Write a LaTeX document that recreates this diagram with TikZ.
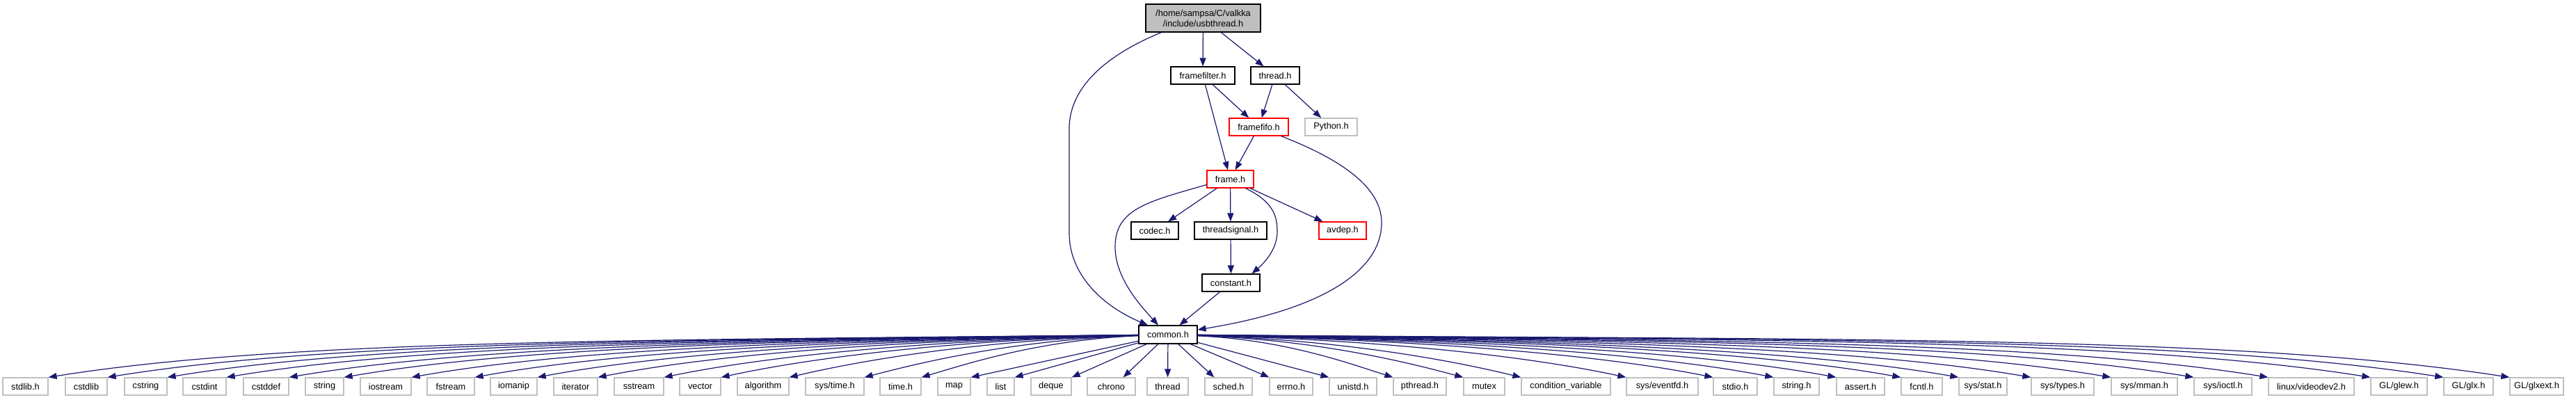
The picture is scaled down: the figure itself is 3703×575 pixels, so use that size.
\documentclass[tikz,border=0pt]{standalone}
\usepackage{fontspec}
\setmainfont{Liberation Sans}
\usetikzlibrary{arrows.meta}
\definecolor{edgeblue}{HTML}{191970}
\definecolor{boxgray}{HTML}{BFBFBF}
\tikzset{
  hbox/.style={rectangle, draw=black, line width=1.2pt, inner sep=0pt, minimum height=25pt, font=\fontsize{12.8}{15}\selectfont, text=black},
  sysbox/.style={hbox, draw=boxgray},
  redbox/.style={hbox, draw=red},
  rootbox/.style={hbox, fill=boxgray, minimum height=40pt, align=center},
  dep/.style={draw=edgeblue, line width=1.2pt, -{Triangle[length=12pt,width=9pt]}},
}
\begin{document}
\begin{tikzpicture}[x=1pt,y=1pt]
\fill[white] (0,0) rectangle (3703,-575);
\useasboundingbox (0,0) rectangle (3703,-575);

% upper nodes
\node[rootbox, minimum width=165pt] (usb) at (1729.5,-26) {/home/sampsa/C/valkka\\/include/usbthread.h};
\node[hbox, minimum width=92pt] (framefilter) at (1729,-108.5) {framefilter.h};
\node[hbox, minimum width=70pt] (threadh) at (1833,-108.5) {thread.h};
\node[redbox, minimum width=85pt] (framefifo) at (1809.5,-182.5) {framefifo.h};
\node[sysbox, minimum width=75pt] (python) at (1913.5,-182.5) {Python.h};
\node[redbox, minimum width=67pt] (frame) at (1768.5,-257.5) {frame.h};
\node[hbox, minimum width=68pt] (codec) at (1660,-331.5) {codec.h};
\node[hbox, minimum width=104pt] (threadsignal) at (1769,-331.5) {threadsignal.h};
\node[redbox, minimum width=68pt] (avdep) at (1930,-331.5) {avdep.h};
\node[hbox, minimum width=83pt] (constant) at (1769.5,-406.5) {constant.h};
\node[hbox, minimum width=84pt, minimum height=26pt] (common) at (1679,-481) {common.h};

% bottom row
\node[sysbox, minimum width=65pt] (stdlibh) at (36.5,-555.5) {stdlib.h};
\node[sysbox, minimum width=60pt] (cstdlib) at (124,-555.5) {cstdlib};
\node[sysbox, minimum width=61pt] (cstring) at (209.5,-555.5) {cstring};
\node[sysbox, minimum width=62pt] (cstdint) at (294,-555.5) {cstdint};
\node[sysbox, minimum width=65pt] (cstddef) at (382.5,-555.5) {cstddef};
\node[sysbox, minimum width=55pt] (stringcpp) at (466.5,-555.5) {string};
\node[sysbox, minimum width=73pt] (iostream) at (554.5,-555.5) {iostream};
\node[sysbox, minimum width=68pt] (fstream) at (648,-555.5) {fstream};
\node[sysbox, minimum width=67pt] (iomanip) at (738.5,-555.5) {iomanip};
\node[sysbox, minimum width=63pt] (iterator) at (827.5,-555.5) {iterator};
\node[sysbox, minimum width=71pt] (sstream) at (918.5,-555.5) {sstream};
\node[sysbox, minimum width=59pt] (vector) at (1006.5,-555.5) {vector};
\node[sysbox, minimum width=74pt] (algorithm) at (1097,-555.5) {algorithm};
\node[sysbox, minimum width=84pt] (systime) at (1200,-555.5) {sys/time.h};
\node[sysbox, minimum width=59pt] (timeh) at (1294.5,-555.5) {time.h};
\node[sysbox, minimum width=47pt] (map) at (1371.5,-555.5) {map};
\node[sysbox, minimum width=39pt] (list) at (1438.5,-555.5) {list};
\node[sysbox, minimum width=58pt] (deque) at (1511,-555.5) {deque};
\node[sysbox, minimum width=69pt] (chrono) at (1597.5,-555.5) {chrono};
\node[sysbox, minimum width=59pt] (threadstd) at (1678.5,-555.5) {thread};
\node[sysbox, minimum width=68pt] (sched) at (1766,-555.5) {sched.h};
\node[sysbox, minimum width=62pt] (errno) at (1856,-555.5) {errno.h};
\node[sysbox, minimum width=68pt] (unistd) at (1945,-555.5) {unistd.h};
\node[sysbox, minimum width=76pt] (pthread) at (2041,-555.5) {pthread.h};
\node[sysbox, minimum width=59pt] (mutex) at (2133.5,-555.5) {mutex};
\node[sysbox, minimum width=128pt] (condvar) at (2251,-555.5) {condition\_variable};
\node[sysbox, minimum width=103pt] (eventfd) at (2389.5,-555.5) {sys/eventfd.h};
\node[sysbox, minimum width=63pt] (stdio) at (2494.5,-555.5) {stdio.h};
\node[sysbox, minimum width=65pt] (stringh) at (2582.5,-555.5) {string.h};
\node[sysbox, minimum width=69pt] (assert) at (2674.5,-555.5) {assert.h};
\node[sysbox, minimum width=59pt] (fcntl) at (2762.5,-555.5) {fcntl.h};
\node[sysbox, minimum width=69pt] (sysstat) at (2850.5,-555.5) {sys/stat.h};
\node[sysbox, minimum width=90pt] (systypes) at (2965,-555.5) {sys/types.h};
\node[sysbox, minimum width=95pt] (sysmman) at (3082.5,-555.5) {sys/mman.h};
\node[sysbox, minimum width=83pt] (sysioctl) at (3195.5,-555.5) {sys/ioctl.h};
\node[sysbox, minimum width=123pt] (videodev) at (3322.5,-555.5) {linux/videodev2.h};
\node[sysbox, minimum width=81pt] (glew) at (3448.5,-555.5) {GL/glew.h};
\node[sysbox, minimum width=71pt] (glx) at (3548.5,-555.5) {GL/glx.h};
\node[sysbox, minimum width=77pt] (glxext) at (3646.5,-555.5) {GL/glxext.h};

% upper edges
\draw[dep] (usb) -- (framefilter);
\draw[dep] (usb) -- (threadh);
\draw[dep] ([xshift=-60pt]usb.south) .. controls (1600,-75) and (1537,-120) .. (1537,-185)
  -- (1537,-335) .. controls (1537,-395) and (1585,-440) .. ([xshift=-29pt]common.north);
\draw[dep] (framefilter) -- (framefifo);
\draw[dep] (framefilter) -- (frame);
\draw[dep] (threadh) -- (framefifo);
\draw[dep] (threadh) -- (python);
\draw[dep] (framefifo) -- (frame);
\draw[dep] ([xshift=32pt]framefifo.south) .. controls (1930,-230) and (1986,-270) .. (1986,-320)
  .. controls (1986,-390) and (1900,-445) .. ([yshift=7pt]common.east);
\draw[dep] (frame) -- (codec);
\draw[dep] (frame) -- (threadsignal);
\draw[dep] (frame) -- (avdep);
\draw[dep] ([xshift=22pt]frame.south) .. controls (1830,-290) and (1836,-310) .. (1836,-333)
  .. controls (1836,-360) and (1815,-380) .. ([xshift=30pt]constant.north);
\draw[dep] ([yshift=-8pt]frame.west) .. controls (1650,-290) and (1603,-300) .. (1603,-355)
  .. controls (1603,-400) and (1640,-440) .. ([xshift=-14pt]common.north);
\draw[dep] (threadsignal) -- (constant);
\draw[dep] (constant) -- (common);

% common.h to system headers, left side
\foreach \nm/\ex in {stdlibh/69, cstdlib/154, cstring/240, cstdint/325, cstddef/415, stringcpp/494, iostream/591, fstream/682, iomanip/772, iterator/859, sstream/954, vector/1036, algorithm/1134, systime/1242, timeh/1324}{
  \pgfmathsetmacro\edx{1679-\ex}
  \pgfmathsetmacro\eph{atan(62/\edx)}
  \pgfmathsetmacro\ein{\eph+7}
  \pgfmathsetmacro\eod{0.45*(\edx-42)}
  \pgfmathsetmacro\eid{0.22*(\edx-42)}
  \pgfmathsetmacro\cax{1637-\eod}
  \pgfmathsetmacro\cay{-481-\eod*tan(0.3*\eph)}
  \pgfmathsetmacro\cbx{\ex+\eid*cos(\ein)}
  \pgfmathsetmacro\cby{-543+\eid*sin(\ein)}
  \draw[dep] (common) .. controls (\cax,\cay) and (\cbx,\cby) .. (\nm.north east);
}
% right side
\foreach \nm/\ex in {pthread/2003, mutex/2104, condvar/2187, eventfd/2338, stdio/2463, stringh/2550, assert/2640, fcntl/2733, sysstat/2816, systypes/2920, sysmman/3035, sysioctl/3154, videodev/3261, glew/3408, glx/3513, glxext/3608}{
  \pgfmathsetmacro\edx{\ex-1679}
  \pgfmathsetmacro\eph{atan(62/\edx)}
  \pgfmathsetmacro\ein{\eph+7}
  \pgfmathsetmacro\eod{0.45*(\edx-42)}
  \pgfmathsetmacro\eid{0.22*(\edx-42)}
  \pgfmathsetmacro\cax{1721+\eod}
  \pgfmathsetmacro\cay{-481-\eod*tan(0.3*\eph)}
  \pgfmathsetmacro\cbx{\ex-\eid*cos(\ein)}
  \pgfmathsetmacro\cby{-543+\eid*sin(\ein)}
  \draw[dep] (common) .. controls (\cax,\cay) and (\cbx,\cby) .. (\nm.north west);
}
% near ones
\draw[dep] (common) -- (map.north east);
\draw[dep] (common) -- (list.north east);
\draw[dep] (common) -- (deque.north east);
\draw[dep] (common) -- ([xshift=-18pt]chrono.north east);
\draw[dep] (common) -- (threadstd);
\draw[dep] (common) -- ([xshift=14pt]sched.north west);
\draw[dep] (common) -- (errno.north west);
\draw[dep] (common) -- (unistd.north west);
\end{tikzpicture}
\end{document}
